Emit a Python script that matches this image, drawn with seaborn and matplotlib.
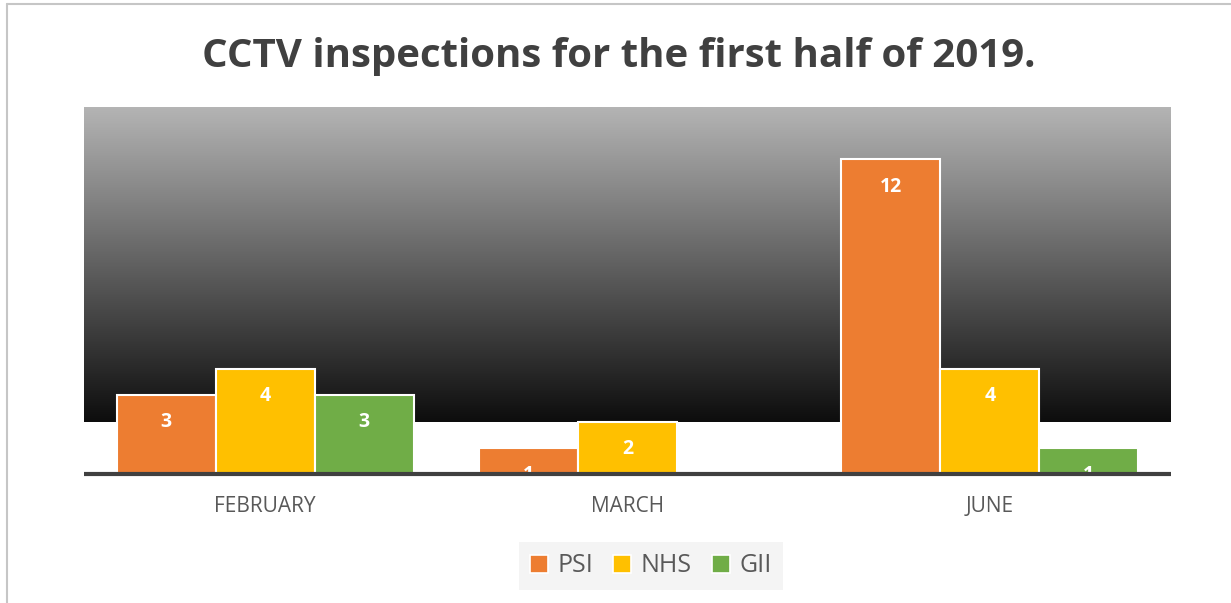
import matplotlib
matplotlib.use("Agg")
import matplotlib.pyplot as plt
import numpy as np
import pandas as pd
import seaborn as sns
from matplotlib.colors import LinearSegmentedColormap
from matplotlib.lines import Line2D
from matplotlib.patches import Patch

# data
months = ["FEBRUARY", "MARCH", "JUNE"]
series = ["PSI", "NHS", "GII"]
psi = [3, 1, 12]
nhs = [4, 2, 4]
gii = [3, None, 1]   # no GII bar in March
colors = ["#ED7D31", "#FFC000", "#70AD47"]

rows = []
for name, vals in zip(series, [psi, nhs, gii]):
    for m, v in zip(months, vals):
        if v is not None:
            rows.append({"month": m, "series": name, "count": v})
df = pd.DataFrame(rows)

sns.set_style("white")
plt.rcParams["font.family"] = ["Open Sans", "DejaVu Sans"]

fig = plt.figure(figsize=(12.31, 6.03), dpi=100)
ax = fig.add_axes([84 / 1231, 1 - 474 / 603, (1171 - 84) / 1231, (474 - 107) / 603])

sns.barplot(
    data=df, x="month", y="count", hue="series",
    order=months, hue_order=series, palette=colors, saturation=1,
    width=0.82, edgecolor="white", linewidth=1.5,
    errorbar=None, legend=False, ax=ax, zorder=2,
)

# gradient band behind the bars (from 2 up to the top)
cmap = LinearSegmentedColormap.from_list("grad", ["#0d0d0d", "#b4b4b4"])
grad = np.linspace(0, 1, 256).reshape(-1, 1)
ax.imshow(grad, cmap=cmap, aspect="auto", origin="lower",
          extent=[-0.5, 2.5, 2, 14], zorder=0)
ax.set_xlim(-0.5, 2.5)
ax.set_ylim(0, 14)

# value labels, clipped to their bar
for cont in ax.containers:
    for bar in cont:
        h = bar.get_height()
        if np.isnan(h) or h == 0:
            continue
        t = ax.annotate(
            f"{int(h)}", (bar.get_x() + bar.get_width() / 2, h),
            xytext=(0, -19.5), textcoords="offset points",
            ha="center", va="center", color="white",
            fontsize=14, fontweight="bold", zorder=4,
        )
        t.set_clip_path(bar)

ax.axhline(0, color="#404040", lw=3, zorder=5, clip_on=False, solid_capstyle="butt")

for s in ax.spines.values():
    s.set_visible(False)
ax.set_yticks([])
ax.set_xlabel("")
ax.set_ylabel("")
ax.tick_params(axis="x", length=0, pad=16, labelsize=15, labelcolor="#595959")

fig.text(0.503, 0.907, "CCTV inspections for the first half of 2019.",
         ha="center", va="center", fontsize=29, fontweight="bold", color="#404040")

handles = [Patch(facecolor=c, edgecolor="white", linewidth=1.2) for c in colors]
leg = fig.legend(
    handles, series, loc="center", bbox_to_anchor=(651 / 1231, 1 - 566 / 603),
    ncol=3, fontsize=18, frameon=True, fancybox=False,
    handlelength=0.7, handleheight=0.7, handletextpad=0.4, columnspacing=0.8,
    borderpad=0.45, labelcolor="#595959",
)
leg.get_frame().set_facecolor("#f2f2f2")
leg.get_frame().set_edgecolor("none")

# outer chart border (top and left visible)
fig.add_artist(Line2D([7 / 1231, 1], [1 - 4 / 603, 1 - 4 / 603], color="#c6c6c6", lw=1.5))
fig.add_artist(Line2D([7 / 1231, 7 / 1231], [0, 1 - 4 / 603], color="#c6c6c6", lw=1.5))

fig.savefig("out.png", dpi=100)
